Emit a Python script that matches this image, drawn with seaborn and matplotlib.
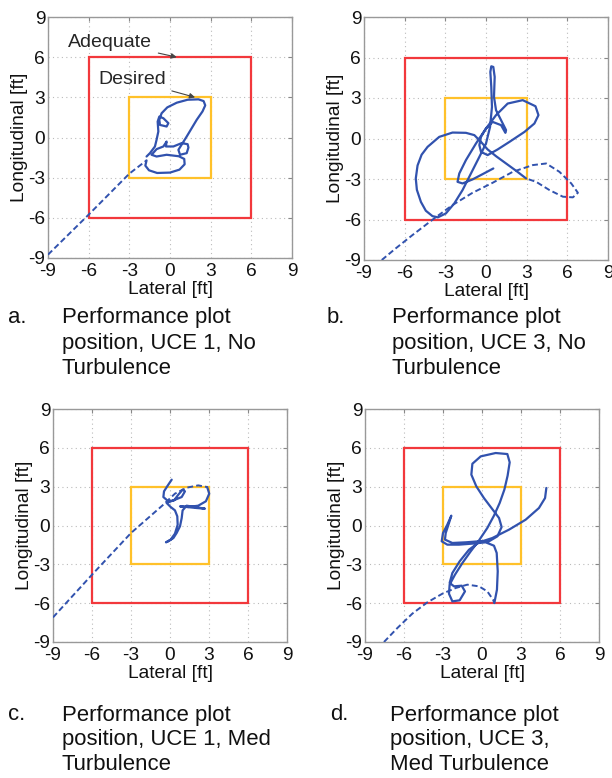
import matplotlib
matplotlib.use("Agg")
import matplotlib.pyplot as plt
import seaborn as sns

sns.set_style("white")
plt.rcParams['font.family'] = ['Liberation Sans', 'DejaVu Sans']

# ---------------- data (feet) ----------------
ticks = [-9, -6, -3, 0, 3, 6, 9]
adequate_half = 6
desired_half = 3

# Panel a: UCE 1, No Turbulence
a_dash_x = [-9.0, -6.0, -3.0, -1.73]
a_dash_y = [-8.75, -5.76, -2.7, -1.71]
a_solid_x = [-1.73, -1.82, -1.55, -0.95, 0.0, 0.70, 1.08, 1.05, 0.65, -0.25, -0.99, -1.36, -0.99, -0.49,
             -0.25, -0.30, 0.25, 0.86, 1.30, 1.36, 1.23, 0.74, 0.62, 1.23, 1.97, 2.40, 2.60, 2.48, 2.10,
             1.30, 0.50, -0.20, -0.62, -0.79, -0.74, -0.25, -0.12, -0.49, -0.79, -0.91, -0.86, -0.99,
             -1.11, -1.48, -1.73]
a_solid_y = [-1.71, -2.10, -2.45, -2.65, -2.62, -2.40, -2.00, -1.60, -1.40, -1.29, -1.42, -1.29, -0.87,
             -0.67, -0.30, -0.67, -0.67, -0.42, -0.50, -0.75, -1.17, -1.29, -0.92, 0.07, 1.32, 1.95, 2.40,
             2.72, 2.85, 2.82, 2.60, 2.25, 1.81, 1.32, 0.94, 0.82, 1.07, 1.44, 1.56, 1.19, 0.45, -0.17,
             -0.67, -1.17, -1.42]

# Panel b: UCE 3, No Turbulence
b_dash_x = [-7.69, -6.66, -5.42, -3.82, -2.47, -0.99, 0.49, 1.97, 3.45, 4.44, 5.42, 6.29, 6.78, 6.41,
            5.67, 4.68, 3.70, 2.96]
b_dash_y = [-9.0, -8.14, -7.15, -5.92, -4.93, -4.02, -3.28, -2.47, -1.97, -1.85, -2.47, -3.33, -4.02, -4.36,
            -4.31, -3.82, -3.21, -2.96]
b_solid_x = [2.96, 2.22, 1.48, 0.74, 0.12, -0.37, -0.86, -1.48, -2.47, -3.45, -4.31, -4.75, -5.05, -5.18,
             -5.10, -4.80, -4.44, -3.95, -3.55, -2.96, -2.34, -1.73, -1.11, -0.49, 0.0, 0.30, 0.44, 0.39,
             0.32, 0.39, 0.54, 0.64, 0.59, 0.74, 1.11, 1.48, 1.43, 1.11, 0.49, 0.0, -0.37, -0.49, -0.37,
             0.12, 0.86, 1.73, 2.84, 3.57, 3.87, 3.65, 2.71, 1.60, 0.74, 0.0, -0.74, -1.48, -1.97, -2.10,
             -1.73, -0.99, -0.25, 0.54]
b_solid_y = [-2.96, -2.39, -1.85, -1.31, -0.81, -0.25, 0.25, 0.42, 0.44, 0.12, -0.62, -1.20, -2.00, -2.96,
             -3.80, -4.70, -5.35, -5.75, -5.84, -5.55, -4.81, -3.82, -2.59, -1.36, -0.37, 0.86, 2.34, 3.82,
             4.93, 5.35, 5.30, 4.56, 3.08, 2.10, 1.36, 0.62, 0.42, 0.99, 1.23, 0.74, 0.12, -0.49, -0.99,
             -1.23, -0.81, -0.25, 0.49, 1.11, 1.73, 2.39, 2.84, 2.59, 1.73, 0.74, -0.37, -1.60, -2.59,
             -3.21, -3.33, -3.03, -2.64, -2.22]

# Panel c: UCE 1, Med Turbulence
c_dash_x = [-9.0, -6.0, -3.0, -0.51, 0.38, 1.28, 2.17, 2.86]
c_dash_y = [-7.1, -3.8, -0.58, 1.61, 2.46, 2.92, 3.10, 2.97]
c_solid_x = [2.86, 3.02, 2.76, 2.17, 1.41, 0.77, 1.28, 2.05, 2.69, 1.92, 1.28, 0.97, 0.90, 0.77, 0.51,
             0.26, -0.13, -0.31, 0.05, 0.38, 0.59, 0.56, 0.38, 0.05, -0.26, 0.26, 0.90, 1.15, 0.97, 0.64,
             0.31, -0.13, -0.51, -0.46, -0.18, 0.13]
c_solid_y = [2.97, 2.46, 1.87, 1.53, 1.43, 1.48, 1.43, 1.35, 1.30, 1.43, 1.53, 1.17, 0.58, -0.06, -0.58,
             -0.97, -1.22, -1.30, -1.09, -0.63, 0.06, 0.71, 1.17, 1.43, 1.74, 1.94, 2.20, 2.64, 2.77, 2.38,
             1.94, 1.87, 2.20, 2.64, 3.08, 3.54]

# Panel d: UCE 3, Med Turbulence
d_dash_x = [-7.54, -6.51, -5.36, -4.21, -3.05, -2.03, -1.13, -0.23, 0.41, 0.85, 0.95]
d_dash_y = [-9.0, -7.92, -6.81, -5.94, -5.27, -4.83, -4.57, -4.70, -5.09, -5.73, -5.99]
d_solid_x = [0.95, 1.15, 1.21, 1.13, 0.92, 0.28, -0.74, -1.77, -2.67, -3.10, -3.00, -2.67, -2.36, -2.54,
             -2.79, -2.85, -2.28, -1.26, -0.23, 0.54, 1.18, 1.51, 1.31, 0.79, 0.15, -0.44, -0.82, -0.74,
             -0.10, 1.05, 1.95, 2.13, 1.97, 1.72, 1.36, 0.92, 0.41, -0.23, -0.87, -1.51, -2.08, -2.49,
             -2.54, -2.28, -1.72, -1.31, -1.56, -2.15, -2.49, -2.28, -1.72, -1.00, -0.23, 0.79, 2.08,
             3.36, 4.38, 4.85, 4.95]
d_solid_y = [-5.99, -4.96, -3.54, -2.12, -1.56, -1.30, -1.40, -1.48, -1.48, -1.22, -0.58, 0.06, 0.76, 0.19,
             -0.58, -1.09, -1.35, -1.30, -1.22, -1.22, -0.84, -0.12, 0.58, 1.27, 2.12, 3.03, 3.93, 4.77,
             5.34, 5.60, 5.52, 4.88, 3.85, 2.77, 1.74, 0.76, -0.19, -1.15, -2.00, -2.90, -3.80, -4.57,
             -5.27, -5.86, -5.78, -5.09, -4.65, -4.70, -4.44, -3.67, -2.77, -1.87, -1.30, -0.97, -0.32,
             0.45, 1.35, 2.12, 2.90]

caption_letters = ["a.", "b.", "c.", "d."]
caption_lines = [
    ["Performance plot", "position, UCE 1, No", "Turbulence"],
    ["Performance plot", "position, UCE 3, No", "Turbulence"],
    ["Performance plot", "position, UCE 1, Med", "Turbulence"],
    ["Performance plot", "position, UCE 3,", "Med Turbulence"],
]

# ---------------- styling ----------------
BLUE = "#3152AE"
RED = "#F2383C"
ORANGE = "#FFC12A"
W, H = 612, 778
TICK_FS = 13.8
CAP_FS = 15.9

fig = plt.figure(figsize=(W / 100, H / 100), dpi=100)


def rect(x0, y0, x1, y1):
    return [x0 / W, 1 - y1 / H, (x1 - x0) / W, (y1 - y0) / H]


panel_rects = [rect(48, 17, 292, 258), rect(364, 17, 608, 260),
               rect(53, 409, 287, 642), rect(365, 409, 599, 642)]
panels = [
    (a_dash_x, a_dash_y, a_solid_x, a_solid_y),
    (b_dash_x, b_dash_y, b_solid_x, b_solid_y),
    (c_dash_x, c_dash_y, c_solid_x, c_solid_y),
    (d_dash_x, d_dash_y, d_solid_x, d_solid_y),
]

axes = []
for r, (dx, dy, sx, sy) in zip(panel_rects, panels):
    ax = fig.add_axes(r)
    axes.append(ax)
    for half, col in ((adequate_half, RED), (desired_half, ORANGE)):
        bx = [-half, half, half, -half, -half]
        by = [-half, -half, half, half, -half]
        ax.plot(bx, by, color=col, lw=1.6, zorder=2, solid_joinstyle='miter')
    sns.lineplot(x=dx, y=dy, sort=False, estimator=None, ax=ax, color=BLUE,
                 lw=1.4, linestyle=(0, (3, 1.6)), zorder=3)
    sns.lineplot(x=sx, y=sy, sort=False, estimator=None, ax=ax, color=BLUE,
                 lw=1.6, zorder=3)
    ax.set_xlim(-9, 9)
    ax.set_ylim(-9, 9)
    ax.set_xticks(ticks)
    ax.set_yticks(ticks)
    ax.set_xticklabels([str(t) for t in ticks])
    ax.set_yticklabels([str(t) for t in ticks])
    ax.grid(True, linestyle=(0, (1, 3)), color="#bbbbbb", lw=0.8)
    ax.set_axisbelow(True)
    ax.tick_params(direction='in', length=3, color='#888888', labelsize=TICK_FS, pad=2,
                   top=True, right=True, labelcolor='#111111')
    ax.tick_params(axis='x', pad=3.5)
    for s in ax.spines.values():
        s.set_color('#999999')
        s.set_linewidth(1.0)
    ax.set_xlabel("Lateral [ft]", fontsize=TICK_FS, labelpad=0.5, color='#111111')
    ax.set_ylabel("Longitudinal [ft]", fontsize=TICK_FS, labelpad=0, color='#111111')

# annotations in panel a
ax = axes[0]
ax.annotate("Adequate", xy=(0.5, 6.0), xytext=(-7.5, 7.1), fontsize=14, va='center', ha='left',
            arrowprops=dict(arrowstyle='-|>', color='#444444', lw=0.8, mutation_scale=8,
                            shrinkA=2, shrinkB=0))
ax.annotate("Desired", xy=(1.85, 3.0), xytext=(-5.3, 4.3), fontsize=14, va='center', ha='left',
            arrowprops=dict(arrowstyle='-|>', color='#444444', lw=0.8, mutation_scale=8,
                            shrinkA=2, shrinkB=0))

# captions
cap_pos = [(8, 62, 318), (327, 392, 318), (8, 62, 715), (330, 390, 715)]
for (lx, tx, ty), letter, lines in zip(cap_pos, caption_letters, caption_lines):
    fig.text(lx / W, 1 - ty / H, letter, fontsize=CAP_FS, va='center', ha='left', color='#111111')
    for i, line in enumerate(lines):
        fig.text(tx / W, 1 - (ty + 25 * i) / H, line, fontsize=CAP_FS, va='center', ha='left',
                 color='#111111')

fig.savefig("out.png", dpi=100)
